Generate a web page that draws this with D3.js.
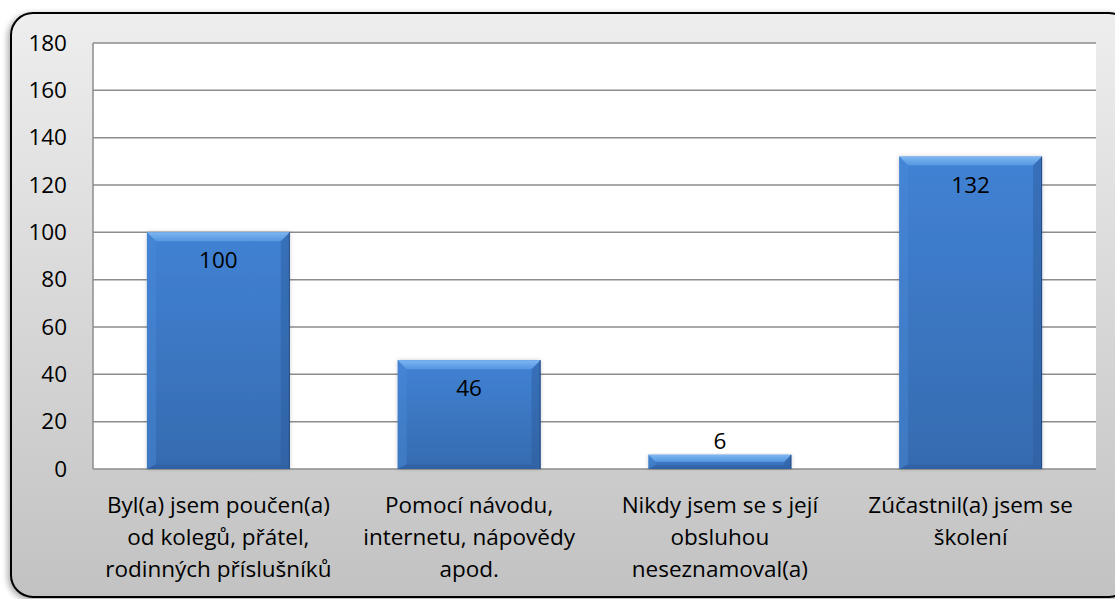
<!DOCTYPE html>
<html>
<head>
<meta charset="utf-8">
<script src="https://cdn.jsdelivr.net/npm/d3@7"></script>
<style>
  html, body { margin: 0; padding: 0; background: #ffffff; }
  svg { display: block; font-family: "Open Sans", Lato, sans-serif; }
</style>
</head>
<body>
<svg id="chart" width="1115" height="599"></svg>
<script>
// Answer categories (multi-line labels) and respondent counts
const categories = [
  ["Byl(a) jsem poučen(a)", "od kolegů, přátel,", "rodinných příslušníků"],
  ["Pomocí návodu,", "internetu, nápovědy", "apod."],
  ["Nikdy jsem se s její", "obsluhou", "neseznamoval(a)"],
  ["Zúčastnil(a) jsem se", "školení"]
];
const values = [100, 46, 6, 132];
const yTicks = [0, 20, 40, 60, 80, 100, 120, 140, 160, 180];

const FONT = "'Open Sans', Lato, sans-serif";
const FS = 22.5;

const svg = d3.select("#chart");
const plot = { left: 93, right: 1096, top: 43, bottom: 469 };

const defs = svg.append("defs");

// frame background gradient
const bg = defs.append("linearGradient").attr("id", "bgGrad")
  .attr("x1", 0).attr("y1", 0).attr("x2", 0).attr("y2", 1);
bg.append("stop").attr("offset", "0%").attr("stop-color", "#eeeeee");
bg.append("stop").attr("offset", "100%").attr("stop-color", "#c2c2c2");

// bar face gradient
const barGrad = defs.append("linearGradient").attr("id", "barGrad")
  .attr("x1", 0).attr("y1", 0).attr("x2", 0).attr("y2", 1);
barGrad.append("stop").attr("offset", "0%").attr("stop-color", "#4182d4");
barGrad.append("stop").attr("offset", "100%").attr("stop-color", "#366bb0");

// top bevel gradient
const topGrad = defs.append("linearGradient").attr("id", "topGrad")
  .attr("x1", 0).attr("y1", 0).attr("x2", 0).attr("y2", 1);
topGrad.append("stop").attr("offset", "0%").attr("stop-color", "#7db6f2");
topGrad.append("stop").attr("offset", "100%").attr("stop-color", "#5596e0");

const shadow = defs.append("filter").attr("id", "frameShadow")
  .attr("x", "-5%").attr("y", "-5%").attr("width", "110%").attr("height", "110%");
shadow.append("feDropShadow").attr("dx", -2).attr("dy", 2)
  .attr("stdDeviation", 3).attr("flood-color", "#000").attr("flood-opacity", 0.35);

const barShadow = defs.append("filter").attr("id", "barShadow")
  .attr("x", "-10%").attr("y", "-10%").attr("width", "120%").attr("height", "120%");
barShadow.append("feDropShadow").attr("dx", 0).attr("dy", 0)
  .attr("stdDeviation", 2).attr("flood-color", "#000").attr("flood-opacity", 0.2);

// outer rounded frame
svg.append("rect")
  .attr("x", 11).attr("y", 13)
  .attr("width", 1120).attr("height", 584)
  .attr("rx", 22).attr("ry", 22)
  .attr("fill", "url(#bgGrad)")
  .attr("stroke", "#000").attr("stroke-width", 2)
  .attr("filter", "url(#frameShadow)");

// scales
const x = d3.scaleBand()
  .domain(d3.range(categories.length))
  .range([plot.left, plot.right])
  .paddingInner(0.43).paddingOuter(0.215);
const y = d3.scaleLinear().domain([0, 180]).range([plot.bottom, plot.top]);

// plot area
svg.append("rect")
  .attr("x", plot.left).attr("y", plot.top)
  .attr("width", plot.right - plot.left).attr("height", plot.bottom - plot.top)
  .attr("fill", "#ffffff");

// gridlines
svg.append("g").selectAll("line")
  .data(yTicks)
  .join("line")
  .attr("x1", plot.left).attr("x2", plot.right)
  .attr("y1", d => y(d)).attr("y2", d => y(d))
  .attr("stroke", "#8c8c8c").attr("stroke-width", 1.5);

svg.append("line")
  .attr("x1", plot.left).attr("x2", plot.left)
  .attr("y1", plot.top).attr("y2", plot.bottom)
  .attr("stroke", "#8c8c8c").attr("stroke-width", 1.5);

// y axis labels
const yAxis = d3.axisLeft(y).tickValues(yTicks).tickSize(0).tickPadding(26);
const yG = svg.append("g").attr("transform", `translate(${plot.left},0)`).call(yAxis);
yG.select(".domain").remove();
yG.selectAll("text")
  .attr("font-family", FONT)
  .attr("font-size", FS).attr("fill", "#000");

// bars with bevelled edges
const bars = svg.append("g").selectAll("g")
  .data(values)
  .join("g");

const bev = (h) => Math.min(9, h / 2);

bars.append("rect")
  .attr("x", (d, i) => x(i))
  .attr("y", d => y(d))
  .attr("width", x.bandwidth())
  .attr("height", d => y(0) - y(d))
  .attr("fill", "url(#barGrad)")
  .attr("filter", "url(#barShadow)");

// top bevel
bars.append("path")
  .attr("d", (d, i) => {
    const x0 = x(i), x1 = x(i) + x.bandwidth(), t = y(d), b = bev(y(0) - y(d));
    return `M${x0},${t}L${x1},${t}L${x1 - b},${t + b}L${x0 + b},${t + b}Z`;
  })
  .attr("fill", "url(#topGrad)");
// left bevel
bars.append("path")
  .attr("d", (d, i) => {
    const x0 = x(i), t = y(d), bt = y(0), b = bev(bt - t);
    return `M${x0},${t}L${x0 + b},${t + b}L${x0 + b},${bt - b / 2}L${x0},${bt}Z`;
  })
  .attr("fill", "#4a8ad8").attr("opacity", 0.45);
// right bevel
bars.append("path")
  .attr("d", (d, i) => {
    const x1 = x(i) + x.bandwidth(), t = y(d), bt = y(0), b = bev(bt - t);
    return `M${x1},${t}L${x1 - b},${t + b}L${x1 - b},${bt - b / 2}L${x1},${bt}Z`;
  })
  .attr("fill", "#2c5a9a").attr("opacity", 0.45);
// bottom bevel
bars.append("path")
  .attr("d", (d, i) => {
    const x0 = x(i), x1 = x(i) + x.bandwidth(), t = y(d), bt = y(0), b = bev(bt - t) / 2;
    return `M${x0},${bt}L${x0 + 2 * b},${bt - b}L${x1 - 2 * b},${bt - b}L${x1},${bt}Z`;
  })
  .attr("fill", "#2d5c9c").attr("opacity", 0.6);
// dark right edge
bars.append("line")
  .attr("x1", (d, i) => x(i) + x.bandwidth() - 0.5)
  .attr("x2", (d, i) => x(i) + x.bandwidth() - 0.5)
  .attr("y1", d => y(d)).attr("y2", y(0))
  .attr("stroke", "#1f3f6e").attr("stroke-width", 1).attr("opacity", 0.7);

// value labels: inside near top for tall bars, above for short ones
svg.append("g").selectAll("text")
  .data(values)
  .join("text")
  .attr("x", (d, i) => x(i) + x.bandwidth() / 2)
  .attr("y", d => (y(0) - y(d) > 40 ? y(d) + 36 : y(d) - 6))
  .attr("text-anchor", "middle")
  .attr("font-family", FONT)
  .attr("font-size", FS).attr("fill", "#000")
  .text(d => d);

// category labels
const catG = svg.append("g").selectAll("text")
  .data(categories)
  .join("text")
  .attr("text-anchor", "middle")
  .attr("font-family", FONT)
  .attr("font-size", FS).attr("fill", "#000");
catG.selectAll("tspan")
  .data((d, i) => d.map(line => ({ line, i })))
  .join("tspan")
  .attr("x", d => x(d.i) + x.bandwidth() / 2)
  .attr("y", (d, j) => 513 + j * 32)
  .text(d => d.line);
</script>
</body>
</html>
